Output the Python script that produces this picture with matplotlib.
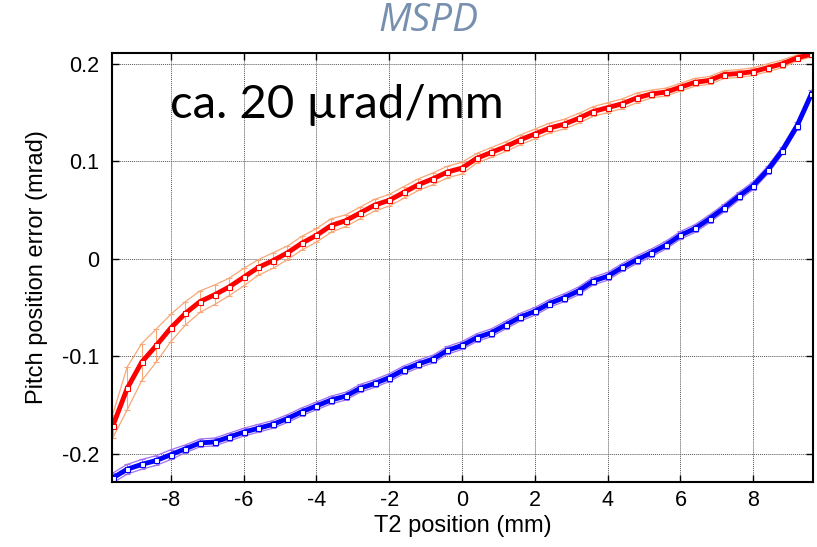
import matplotlib
matplotlib.use("Agg")
import matplotlib.pyplot as plt
import numpy as np

# T2 position (mm), step 0.4 mm
pos = [-9.6, -9.2, -8.8, -8.4, -8.0, -7.6, -7.2, -6.8, -6.4, -6.0,
       -5.6, -5.2, -4.8, -4.4, -4.0, -3.6, -3.2, -2.8, -2.4, -2.0,
       -1.6, -1.2, -0.8, -0.4, 0.0, 0.4, 0.8, 1.2, 1.6, 2.0,
       2.4, 2.8, 3.2, 3.6, 4.0, 4.4, 4.8, 5.2, 5.6, 6.0,
       6.4, 6.8, 7.2, 7.6, 8.0, 8.4, 8.8, 9.2, 9.6]

# forward scan (red)
red = [-0.172, -0.133, -0.106, -0.089, -0.071, -0.056, -0.044, -0.037, -0.029, -0.019,
       -0.009, -0.002, 0.006, 0.016, 0.024, 0.034, 0.039, 0.047, 0.055, 0.060,
       0.068, 0.076, 0.082, 0.089, 0.093, 0.103, 0.109, 0.115, 0.122, 0.128,
       0.134, 0.138, 0.144, 0.151, 0.155, 0.159, 0.165, 0.169, 0.171, 0.176,
       0.181, 0.183, 0.189, 0.190, 0.192, 0.196, 0.200, 0.206, 0.210]
red_err = [0.012, 0.022, 0.019, 0.017, 0.014, 0.012, 0.011, 0.010, 0.009, 0.009,
           0.008, 0.008, 0.007, 0.007, 0.007, 0.007, 0.006, 0.006, 0.006, 0.006,
           0.006, 0.006, 0.006, 0.006, 0.006, 0.005, 0.005, 0.005, 0.005, 0.005,
           0.005, 0.005, 0.005, 0.005, 0.005, 0.005, 0.005, 0.004, 0.004, 0.004,
           0.004, 0.004, 0.004, 0.004, 0.004, 0.004, 0.004, 0.003, 0.003]

# backward scan (blue)
blue = [-0.225, -0.216, -0.211, -0.207, -0.201, -0.195, -0.189, -0.188, -0.183, -0.178,
        -0.174, -0.170, -0.164, -0.157, -0.151, -0.145, -0.141, -0.133, -0.128, -0.122,
        -0.114, -0.108, -0.103, -0.094, -0.089, -0.081, -0.076, -0.068, -0.060, -0.054,
        -0.046, -0.040, -0.033, -0.023, -0.018, -0.009, -0.001, 0.006, 0.014, 0.024,
        0.031, 0.041, 0.052, 0.064, 0.075, 0.091, 0.111, 0.136, 0.169]
blue_err = [0.005, 0.005, 0.005, 0.005, 0.005, 0.004, 0.004, 0.004, 0.004, 0.004,
            0.004, 0.004, 0.004, 0.004, 0.004, 0.004, 0.004, 0.004, 0.004, 0.004,
            0.004, 0.004, 0.004, 0.004, 0.004, 0.004, 0.004, 0.004, 0.004, 0.004,
            0.004, 0.004, 0.004, 0.004, 0.004, 0.004, 0.004, 0.004, 0.004, 0.004,
            0.004, 0.004, 0.004, 0.004, 0.004, 0.004, 0.004, 0.004, 0.004]

x = np.array(pos)
r = np.array(red)
re = np.array(red_err)
b = np.array(blue)
be = np.array(blue_err)

plt.rcParams['font.family'] = ['Liberation Sans', 'DejaVu Sans']

fig = plt.figure(figsize=(8.17, 5.47), dpi=100)
ax = fig.add_axes([0.137, 0.119, 0.858, 0.784])

band_r = '#f8a878'
band_b = '#a070f0'

# red band + error bars
ax.plot(x, r + re, color=band_r, lw=0.9)
ax.plot(x, r - re, color=band_r, lw=0.9)
ax.errorbar(x, r, yerr=re, fmt='none', ecolor=band_r, elinewidth=0.8, capsize=2, capthick=0.8)
ax.plot(x, r, color='red', lw=3.5, marker='s', ms=3.6, mfc='white', mec='red', mew=0.8)

# blue band
ax.plot(x, b + be, color=band_b, lw=0.9)
ax.plot(x, b - be, color=band_b, lw=0.9)
ax.errorbar(x, b, yerr=be, fmt='none', ecolor=band_b, elinewidth=0.8, capsize=2, capthick=0.8)
ax.plot(x, b, color='#0000ff', lw=3.5, marker='s', ms=3.6, mfc='white', mec='#0000ff', mew=0.8)

ax.set_xlim(-9.62, 9.64)
ax.set_ylim(-0.229, 0.211)
ax.set_xticks([-8, -6, -4, -2, 0, 2, 4, 6, 8])
ax.set_yticks([-0.2, -0.1, 0, 0.1, 0.2])
ax.set_yticklabels(['-0.2', '-0.1', '0', '0.1', '0.2'])
ax.set_xticklabels(['-8', '-6', '-4', '-2', '0', '2', '4', '6', '8'])
ax.tick_params(direction='in', top=True, right=True, labelsize=15.5, length=5, width=1)
ax.tick_params(axis='y', pad=9)
ax.tick_params(axis='x', pad=6)
ax.grid(True, color='#555555', linestyle=(0, (1, 1)), lw=0.7)
for s in ax.spines.values():
    s.set_linewidth(1.5)

ax.set_xlabel('T2 position (mm)', fontsize=17, labelpad=3)
ax.set_ylabel('Pitch position error (mrad)', fontsize=17, labelpad=10)

ax.text(-8.02, 0.158, 'ca. 20 µrad/mm', fontsize=34, family=['Lato', 'DejaVu Sans'], va='center', ha='left')

fig.text(0.524, 0.962, 'MSPD', fontsize=28, style='italic', color='#7890b0',
         family=['Open Sans', 'DejaVu Sans'], ha='center', va='center')

fig.savefig('out.png', dpi=100)
